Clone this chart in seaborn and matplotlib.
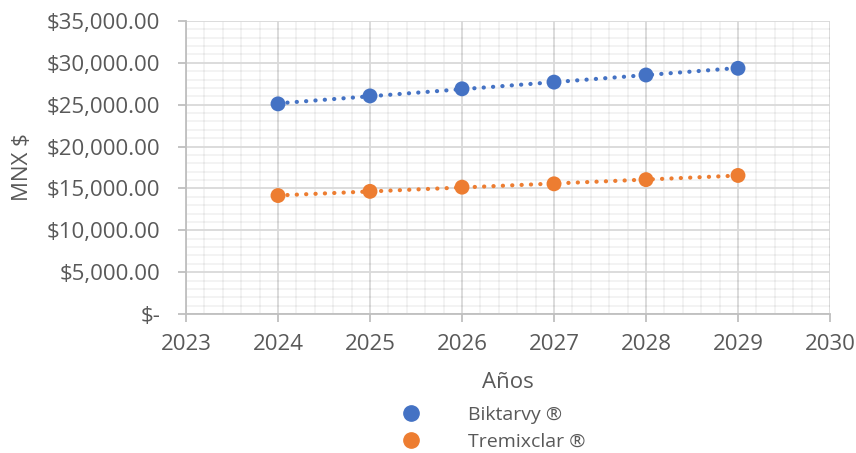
import matplotlib
matplotlib.use("Agg")
import matplotlib.pyplot as plt
import matplotlib.ticker as mticker
import pandas as pd
import seaborn as sns

# ── Data ────────────────────────────────────────────────────────────────────
years = [2024, 2025, 2026, 2027, 2028, 2029]
biktarvy = [25100, 26050, 26900, 27700, 28550, 29350]
tremixclar = [14150, 14650, 15150, 15550, 16050, 16550]
series_names = ["Biktarvy ®", "Tremixclar ®"]
colors = ["#4472C4", "#ED7D31"]

df = pd.DataFrame({
    "Año": years * 2,
    "Precio": biktarvy + tremixclar,
    "Serie": [series_names[0]] * len(years) + [series_names[1]] * len(years),
})

# ── Style ───────────────────────────────────────────────────────────────────
sns.set_theme(style="white")
plt.rcParams["font.family"] = ["Open Sans", "DejaVu Sans"]
TXT = "#595959"
FS = 16

fig = plt.figure(figsize=(8.56, 4.53), dpi=100)
ax = fig.add_axes([186 / 856, 1 - 314 / 453, (830 - 186) / 856, (314 - 21) / 453])

# trendlines (dotted, linear)
for name, col in zip(series_names, colors):
    sub = df[df["Serie"] == name]
    sns.regplot(data=sub, x="Año", y="Precio", ax=ax, scatter=False, ci=None,
                truncate=True,
                line_kws={"color": col, "linestyle": (0, (0.05, 2.2)),
                          "linewidth": 3.0, "dash_capstyle": "round"})

sns.scatterplot(data=df, x="Año", y="Precio", hue="Serie", palette=colors,
                s=115, edgecolor="none", ax=ax, zorder=5, legend=False)

ax.set_xlim(2023, 2030)
ax.set_ylim(0, 35000)
ax.xaxis.set_major_locator(mticker.MultipleLocator(1))
ax.xaxis.set_minor_locator(mticker.MultipleLocator(0.2))
ax.yaxis.set_major_locator(mticker.MultipleLocator(5000))
ax.yaxis.set_minor_locator(mticker.MultipleLocator(1000))
ax.xaxis.set_major_formatter(mticker.FormatStrFormatter("%d"))
ax.yaxis.set_major_formatter(mticker.FuncFormatter(
    lambda v, _: "$-" if v == 0 else f"${v:,.2f}"))

# translucent minor grid so it never lightens the major lines it crosses
ax.grid(which="major", color="#D9D9D9", linewidth=1.3, alpha=1.0)
ax.grid(which="minor", color="black", alpha=0.05, linewidth=1.3)
ax.set_axisbelow(True)

for side in ["top", "right"]:
    ax.spines[side].set_visible(False)
for side in ["left", "bottom"]:
    ax.spines[side].set_color("#BFBFBF")
    ax.spines[side].set_linewidth(1.3)

ax.tick_params(axis="both", which="major", labelsize=FS, colors="#BFBFBF",
               labelcolor=TXT, length=5.5, width=1.3, direction="out",
               bottom=True, left=True)
ax.tick_params(which="minor", length=0)
ax.tick_params(axis="x", pad=9)
ax.tick_params(axis="y", pad=13)

ax.set_xlabel("Años", fontsize=FS, color=TXT, labelpad=12)
ax.set_ylabel("MNX $", fontsize=FS, color=TXT, labelpad=10)

# legend below the axis title
handles = [plt.Line2D([], [], marker="o", linestyle="none", markersize=11,
                      color=c) for c in colors]
fig.legend(handles, series_names, loc="upper left",
           bbox_to_anchor=(382 / 856, 1 - 396 / 453), frameon=False,
           fontsize=14, labelcolor=TXT, handletextpad=1.9,
           labelspacing=0.45, borderpad=0)

fig.savefig("out.png", dpi=100)
